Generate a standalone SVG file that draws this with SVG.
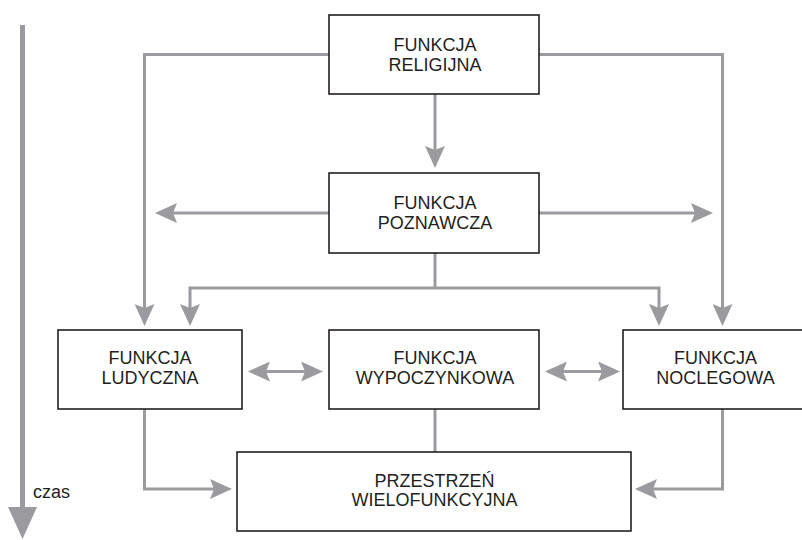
<svg xmlns="http://www.w3.org/2000/svg" width="802" height="540" viewBox="0 0 802 540">
<style>
.box{fill:#ffffff;stroke:#231f20;stroke-width:1.6}
.lbl{font-family:"Liberation Sans",Arial,sans-serif;font-size:18px;fill:#231f20;text-anchor:middle}
.con{fill:none;stroke:#9b9b9f;stroke-width:3}
.ah{fill:#9b9b9f}
</style>
<defs>
<marker id="arr" viewBox="0 0 22 20" refX="4" refY="10" markerWidth="22" markerHeight="20" markerUnits="userSpaceOnUse" orient="auto-start-reverse">
<path class="ah" d="M0,0 L22,10 L0,20 L4,10 z"/>
</marker>
</defs>
<rect width="802" height="540" fill="#ffffff"/>
<g id="connectors">
<path class="con" d="M329,54.5 H144.5 V308" marker-end="url(#arr)"/>
<path class="con" d="M539,54.5 H722.5 V308" marker-end="url(#arr)"/>
<path class="con" d="M435,94 V150" marker-end="url(#arr)"/>
<path class="con" d="M329,213 H173" marker-end="url(#arr)"/>
<path class="con" d="M539,213 H695" marker-end="url(#arr)"/>
<path class="con" d="M435,253 V288"/>
<path class="con" d="M190,308 V288 H659 V308" marker-start="url(#arr)" marker-end="url(#arr)"/>
<path class="con" d="M266,371.5 H305" marker-start="url(#arr)" marker-end="url(#arr)"/>
<path class="con" d="M563,371.5 H602" marker-start="url(#arr)" marker-end="url(#arr)"/>
<path class="con" d="M144.5,409 V489 H214" marker-end="url(#arr)"/>
<path class="con" d="M435,409 V452"/>
<path class="con" d="M722.5,409 V489 H653" marker-end="url(#arr)"/>
</g>
<g id="time">
<line x1="22.5" y1="25" x2="22.5" y2="512" stroke="#9b9b9f" stroke-width="5"/>
<path class="ah" d="M8,507 L37,507 L22.5,539 z"/>
<text x="33" y="498" style="font-family:'Liberation Sans',Arial,sans-serif;font-size:18px;fill:#231f20">czas</text>
</g>
<g id="religijna">
<rect class="box" x="329" y="15" width="210" height="79"/>
<text class="lbl" x="435" y="50.5">FUNKCJA</text>
<text class="lbl" x="435" y="70.5">RELIGIJNA</text>
</g>
<g id="poznawcza">
<rect class="box" x="329" y="173" width="210" height="80"/>
<text class="lbl" x="435" y="208.5">FUNKCJA</text>
<text class="lbl" x="435" y="228.5">POZNAWCZA</text>
</g>
<g id="ludyczna">
<rect class="box" x="58" y="330" width="184" height="79"/>
<text class="lbl" x="150" y="364">FUNKCJA</text>
<text class="lbl" x="150" y="384">LUDYCZNA</text>
</g>
<g id="wypoczynkowa">
<rect class="box" x="329" y="330" width="210" height="79"/>
<text class="lbl" x="435" y="364">FUNKCJA</text>
<text class="lbl" x="435" y="384">WYPOCZYNKOWA</text>
</g>
<g id="noclegowa">
<rect class="box" x="623" y="330" width="185" height="79"/>
<text class="lbl" x="715.5" y="364">FUNKCJA</text>
<text class="lbl" x="715.5" y="384">NOCLEGOWA</text>
</g>
<g id="przestrzen">
<rect class="box" x="237" y="452" width="394" height="79"/>
<text class="lbl" x="434.5" y="486.5">PRZESTRZEŃ</text>
<text class="lbl" x="434.5" y="506">WIELOFUNKCYJNA</text>
</g>
</svg>
